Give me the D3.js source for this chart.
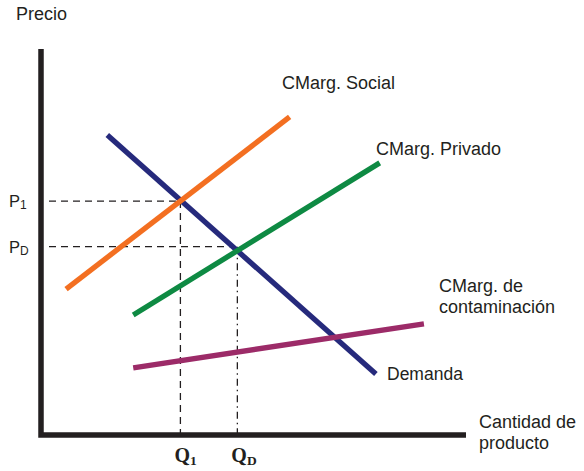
<!DOCTYPE html>
<html>
<head>
<meta charset="utf-8">
<script src="https://cdn.jsdelivr.net/npm/d3@7"></script>
<style>
  body { margin: 0; background: #fff; }
  svg text { font-family: "Liberation Sans", Arial, sans-serif; fill: #231f20; }
</style>
</head>
<body>
<div id="chart"></div>
<script>
// Curves in chart units (x: quantity 0..100, y: price 0..100)
const curveNames = ["Demanda", "CMarg. Social", "CMarg. Privado", "CMarg. de contaminación"];
const curveColors = ["#262a7c", "#f36f21", "#0e8a43", "#9c2b68"];
const curveStart = [[15.6, 77.7], [5.9, 37.8], [21.7, 31.1], [21.7, 17.4]];
const curveEnd = [[78.8, 15.8], [58.5, 82.4], [79.7, 70.5], [90.1, 28.8]];

// Equilibrium guides
const guideLabels = ["1", "D"];
const guideQ = [32.8, 46.2];
const guideP = [60.6, 48.8];

const width = 584, height = 471;
const svg = d3.select("#chart").append("svg")
  .attr("width", width)
  .attr("height", height);

const x = d3.scaleLinear().domain([0, 100]).range([41, 466]);
const y = d3.scaleLinear().domain([0, 100]).range([435, 49]);

// Dashed guide lines
guideQ.forEach((q, i) => {
  svg.append("line")
    .attr("x1", x(0) + 8).attr("x2", x(q))
    .attr("y1", y(guideP[i])).attr("y2", y(guideP[i]))
    .style("stroke", "#231f20").style("stroke-width", 1.3)
    .style("stroke-dasharray", "7,5");
  svg.append("line")
    .attr("x1", x(q)).attr("x2", x(q))
    .attr("y1", y(guideP[i])).attr("y2", y(0))
    .style("stroke", "#231f20").style("stroke-width", 1.3)
    .style("stroke-dasharray", i === 0 ? "7,5" : "7,4,1.5,4");
});

// Curves
curveNames.forEach((name, i) => {
  svg.append("line")
    .attr("x1", x(curveStart[i][0])).attr("y1", y(curveStart[i][1]))
    .attr("x2", x(curveEnd[i][0])).attr("y2", y(curveEnd[i][1]))
    .style("stroke", curveColors[i])
    .style("stroke-width", 5.3);
});

// Axes
svg.append("path")
  .attr("d", `M${x(0)},${y(100)} L${x(0)},${y(0)} L${x(100)},${y(0)}`)
  .style("fill", "none")
  .style("stroke", "#231f20")
  .style("stroke-width", 5.5)
  .style("stroke-linejoin", "miter");

// Axis titles
svg.append("text").attr("x", 16).attr("y", 20).style("font-size", "18px").text("Precio");
svg.append("text").attr("x", 479).attr("y", 428).style("font-size", "18px").text("Cantidad de");
svg.append("text").attr("x", 479).attr("y", 449).style("font-size", "18px").text("producto");

// Curve labels
svg.append("text").attr("x", 282).attr("y", 89).style("font-size", "18px").text("CMarg. Social");
svg.append("text").attr("x", 376).attr("y", 155).style("font-size", "18px").text("CMarg. Privado");
svg.append("text").attr("x", 439).attr("y", 292).style("font-size", "18px").text("CMarg. de");
svg.append("text").attr("x", 439).attr("y", 313).style("font-size", "18px").text("contaminación");
svg.append("text").attr("x", 387).attr("y", 380).style("font-size", "17.5px").text("Demanda");

// Price labels
guideLabels.forEach((lab, i) => {
  const t = svg.append("text").attr("x", 9).attr("y", y(guideP[i]) + 6).style("font-size", "16.5px");
  t.append("tspan").text("P");
  t.append("tspan").attr("dy", 2).style("font-size", "12px").text(lab);
});

// Quantity labels
guideLabels.forEach((lab, i) => {
  const t = svg.append("text")
    .attr("x", x(guideQ[i]) - 6).attr("y", 462)
    .style("font-family", "'Liberation Serif', 'Times New Roman', serif")
    .style("font-weight", "bold")
    .style("font-size", "20px");
  t.append("tspan").text("Q");
  t.append("tspan").attr("dy", 3).style("font-size", "13.5px").text(lab);
});
</script>
</body>
</html>
